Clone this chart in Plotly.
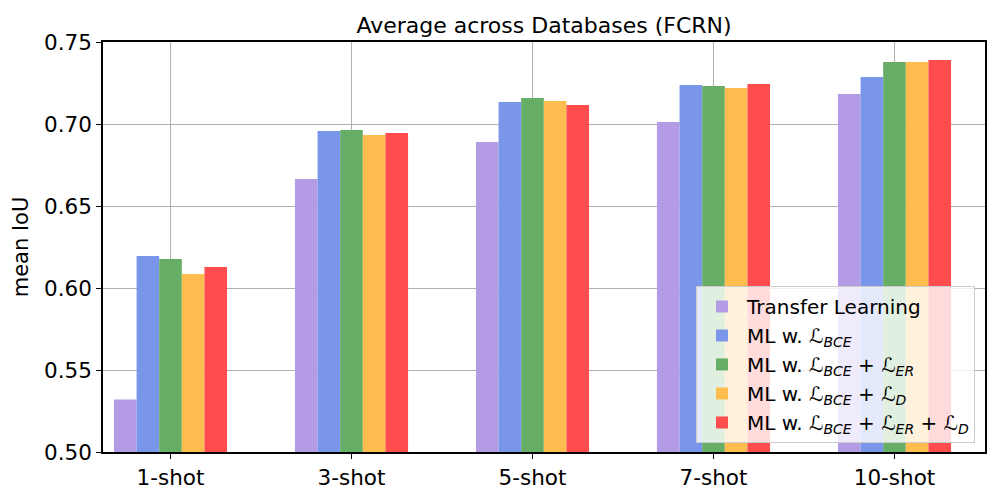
import plotly.graph_objects as go

categories = ["1-shot", "3-shot", "5-shot", "7-shot", "10-shot"]
series_names = [
    "Transfer Learning",
    "ML w. ℒ<sub><i>BCE</i></sub>",
    "ML w. ℒ<sub><i>BCE</i></sub> + ℒ<sub><i>ER</i></sub>",
    "ML w. ℒ<sub><i>BCE</i></sub> + ℒ<sub><i>D</i></sub>",
    "ML w. ℒ<sub><i>BCE</i></sub> + ℒ<sub><i>ER</i></sub> + ℒ<sub><i>D</i></sub>",
]
transfer = [0.532, 0.6665, 0.689, 0.7012, 0.7183]
ml_bce = [0.6195, 0.6957, 0.7134, 0.7238, 0.7287]
ml_bce_er = [0.6177, 0.6963, 0.7159, 0.7232, 0.7378]
ml_bce_d = [0.6085, 0.6933, 0.714, 0.722, 0.7378]
ml_bce_er_d = [0.6128, 0.6945, 0.7116, 0.7244, 0.739]
series_values = [transfer, ml_bce, ml_bce_er, ml_bce_d, ml_bce_er_d]
colors = ["#b39be6", "#7a96ea", "#66ad66", "#ffbd4f", "#ff4c4c"]
y_ticks = [0.50, 0.55, 0.60, 0.65, 0.70, 0.75]

x_idx = list(range(len(categories)))

fig = go.Figure()
for name, vals, c in zip(series_names, series_values, colors):
    fig.add_trace(go.Bar(x=x_idx, y=vals, name=name, marker=dict(color=c, line=dict(width=0))))

font = "DejaVu Sans"
fig.update_layout(
    width=1000, height=500,
    barmode="group", bargap=0.375, bargroupgap=0,
    plot_bgcolor="white", paper_bgcolor="white",
    margin=dict(l=95, r=23, t=34, b=56),
    font=dict(family=font, color="black"),
    title=dict(text="Average across Databases (FCRN)", x=0.5, xref="paper", xanchor="center",
               y=1, yref="paper", yanchor="bottom", pad=dict(b=9),
               font=dict(size=22, family=font, color="black")),
    legend=dict(x=0.9887, y=0.022, xanchor="right", yanchor="bottom",
                bgcolor="rgba(255,255,255,0.8)", bordercolor="#cccccc", borderwidth=1,
                font=dict(size=20, family=font), itemwidth=40),
    showlegend=True,
)
fig.update_xaxes(
    range=[-0.373, 4.5], tickmode="array", tickvals=x_idx, ticktext=categories,
    showgrid=True, gridcolor="#b0b0b0", gridwidth=1.2,
    showline=True, linecolor="black", linewidth=1.5, mirror=True,
    ticks="outside", ticklen=5, tickcolor="black", tickwidth=1.2,
    tickfont=dict(size=21.5, family=font), layer="above traces",
)
fig.update_yaxes(
    range=[0.5, 0.75], tickmode="array", tickvals=y_ticks,
    ticktext=[f"{v:.2f}" for v in y_ticks],
    showgrid=True, gridcolor="#b0b0b0", gridwidth=1.2,
    showline=True, linecolor="black", linewidth=1.5, mirror=True,
    ticks="outside", ticklen=5, tickcolor="black", tickwidth=1.2,
    tickfont=dict(size=21.5, family=font), layer="above traces",
    title=dict(text="mean IoU", font=dict(size=21, family=font), standoff=10),
    zeroline=False,
)
fig.write_html("out.html")
